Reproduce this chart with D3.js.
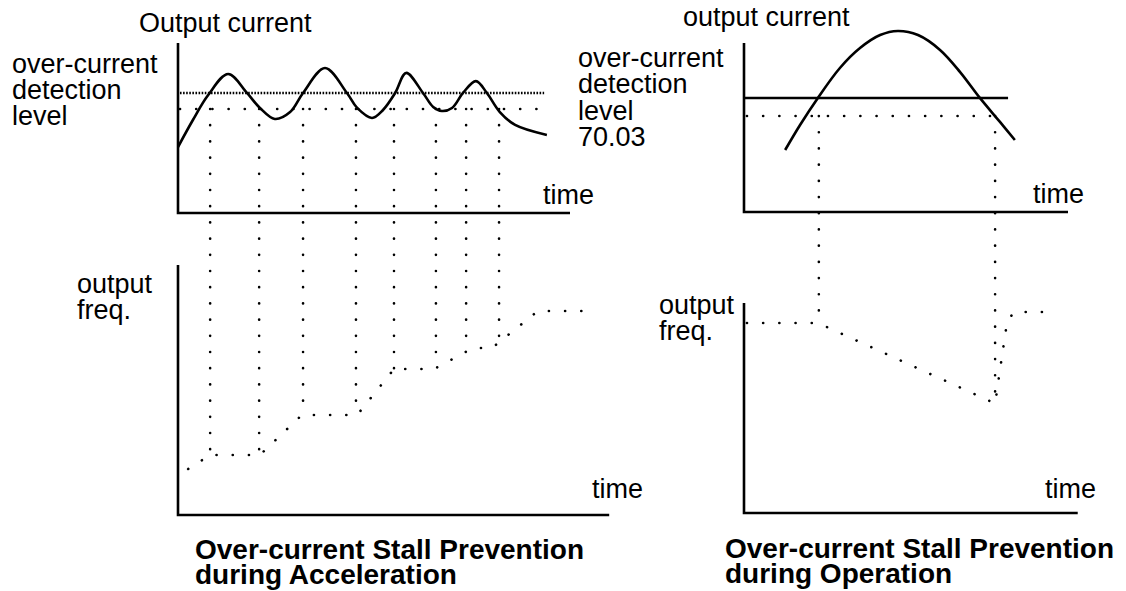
<!DOCTYPE html>
<html><head><meta charset="utf-8">
<script src="https://cdn.jsdelivr.net/npm/d3@7"></script>
<style>
html,body{margin:0;padding:0;background:#fff;}
svg{display:block;}
text{font-family:"Liberation Sans",Arial,Helvetica,sans-serif;fill:#000;}
</style>
</head><body>
<svg id="c" width="1126" height="591"></svg>
<script>
// ---------- data (arbitrary units 0-100) ----------
// Left: stall prevention during acceleration
const accelTime    = [0, 3.8, 7.7, 12.8, 17.6, 20.9, 24.7, 28.6, 31.9, 37.5, 43.1, 45.7, 49.5, 52.3, 55.4, 58.2, 62.5, 65.1, 67.3, 69.9, 72.7, 76, 78.8, 82.1, 86, 94.1];
const accelCurrent = [38.8, 54.7, 69.4, 81.8, 70.6, 61.8, 55.3, 59.4, 70.6, 85.3, 70.6, 61.8, 55.9, 60.6, 70.6, 82.4, 70.6, 62.4, 60, 61.8, 70.6, 77.6, 70.6, 59.4, 51.8, 45.9];
const accelDetectLevel  = 70.6;
const accelReleaseLevel = 61.2;
const accelMarkTimes = [8.2, 20.7, 31.9, 45.4, 55.1, 65.8, 73.5, 81.9];
const accelFreqTime = [2.6, 8.2, 20.9, 31.6, 45.7, 55.1, 65.3, 75.3, 80.1, 91.8, 105.1];
const accelFreq     = [18.4, 24, 24, 40, 40, 58.4, 58.4, 66.8, 66.8, 81.6, 81.6];

// Right: stall prevention during operation
const operTime    = [12.7, 17.3, 22.8, 29.6, 35.8, 42, 47.5, 53.7, 60.5, 66.7, 72.8, 79, 83.6];
const operCurrent = [36.7, 51.5, 67.5, 85.2, 97, 104.7, 107.1, 104.7, 95.9, 82.8, 67.5, 53.3, 42.6];
const operDetectLevel  = 67.5;
const operReleaseLevel = 56.8;
const operMarkTimes = [23.1, 77.5];
const operFreqTime = [0.9, 22.8, 75.9, 77.5, 79, 81.2, 83.3, 94.4];
const operFreq     = [90.5, 90.5, 53.3, 51.9, 68.1, 91, 95.7, 95.7];

// text
const accelCurrentTitle = "Output current";
const operCurrentTitle  = "output current";
const levelLabelLeft  = ["over-current", "detection", "level"];
const levelLabelRight = ["over-current", "detection", "level", "70.03"];
const freqLabel = ["output", "freq."];
const timeLabel = "time";
const accelTitle = ["Over-current Stall Prevention", "during Acceleration"];
const operTitle  = ["Over-current Stall Prevention", "during Operation"];

// ---------- drawing ----------
const svg = d3.select("#c");
const FS = 27;

const xL = d3.scaleLinear().domain([0, 100]).range([178, 570]);
const yLt = d3.scaleLinear().domain([0, 100]).range([213, 43]);
const yLb = d3.scaleLinear().domain([0, 100]).range([515, 265]);
const xR = d3.scaleLinear().domain([0, 100]).range([744, 1068]);
const yRt = d3.scaleLinear().domain([0, 100]).range([212, 43]);
const yRb = d3.scaleLinear().domain([0, 100]).range([513, 303]);

function interp(ts, vs, t) {
  if (t <= ts[0]) return vs[0];
  for (let i = 1; i < ts.length; i++) {
    if (t <= ts[i]) {
      const a = (t - ts[i-1]) / (ts[i] - ts[i-1]);
      return vs[i-1] + a * (vs[i] - vs[i-1]);
    }
  }
  return vs[vs.length - 1];
}

const SPARSE = {w: 2.6, dash: "0.1 16.1", cap: "round"};

function axes(x, y, xEnd) {
  svg.append("path")
    .attr("d", d3.line()([[x(0), y(100)], [x(0), y(0)], [x(xEnd), y(0)]]))
    .attr("fill", "none").attr("stroke", "#000").attr("stroke-width", 2.6);
}
function hline(x, y, v, t0, t1, style) {
  svg.append("line")
    .attr("x1", x(t0)).attr("x2", x(t1)).attr("y1", y(v)).attr("y2", y(v))
    .attr("stroke", "#000").attr("stroke-width", style.w)
    .attr("stroke-dasharray", style.dash).attr("stroke-linecap", style.cap);
}
function curve(x, y, ts, vs, cv) {
  svg.append("path")
    .attr("d", d3.line().x(d => x(d[0])).y(d => y(d[1])).curve(cv)(ts.map((t, i) => [t, vs[i]])))
    .attr("fill", "none").attr("stroke", "#000").attr("stroke-width", 2.6)
    .attr("stroke-linejoin", "round");
}
function dotted(x, y, ts, vs) {
  svg.append("path")
    .attr("d", d3.line().x(d => x(d[0])).y(d => y(d[1]))(ts.map((t, i) => [t, vs[i]])))
    .attr("fill", "none").attr("stroke", "#000").attr("stroke-width", SPARSE.w)
    .attr("stroke-dasharray", SPARSE.dash).attr("stroke-linecap", SPARSE.cap);
}
function markers(x, yTop, yBot, times, level, fts, fvs) {
  times.forEach(t => {
    svg.append("line")
      .attr("x1", x(t)).attr("x2", x(t))
      .attr("y1", yTop(level)).attr("y2", yBot(interp(fts, fvs, t)))
      .attr("stroke", "#000").attr("stroke-width", SPARSE.w)
      .attr("stroke-dasharray", SPARSE.dash).attr("stroke-linecap", SPARSE.cap);
  });
}
function lines(arr, x, y0, dy, opts = {}) {
  const t = svg.append("text").attr("x", x).attr("y", y0)
    .attr("font-size", opts.size || FS).attr("font-weight", opts.weight || "normal");
  arr.forEach((s, i) => t.append("tspan").attr("x", x).attr("y", y0 + i * dy).text(s));
}

// Left panel
axes(xL, yLt, 100);
axes(xL, yLb, 110);
hline(xL, yLt, accelDetectLevel, 0.5, 93.4, {w: 2.3, dash: "1.6 1.5", cap: "butt"});
hline(xL, yLt, accelReleaseLevel, 0.5, 94.1, SPARSE);
markers(xL, yLt, yLb, accelMarkTimes, accelReleaseLevel, accelFreqTime, accelFreq);
curve(xL, yLt, accelTime, accelCurrent, d3.curveCatmullRom.alpha(0.5));
dotted(xL, yLb, accelFreqTime, accelFreq);

// Right panel
axes(xR, yRt, 100);
axes(xR, yRb, 103);
svg.append("line")
  .attr("x1", xR(0)).attr("x2", xR(81.5)).attr("y1", yRt(operDetectLevel)).attr("y2", yRt(operDetectLevel))
  .attr("stroke", "#000").attr("stroke-width", 2.4);
hline(xR, yRt, operReleaseLevel, 0.9, 80, SPARSE);
markers(xR, yRt, yRb, operMarkTimes, operReleaseLevel, operFreqTime, operFreq);
curve(xR, yRt, operTime, operCurrent, d3.curveCatmullRom.alpha(0.5));
dotted(xR, yRb, operFreqTime, operFreq);

// Texts
lines([accelCurrentTitle], 139, 32, 0);
lines(levelLabelLeft, 12, 73, 26);
lines([timeLabel], 543, 204, 0);
lines(freqLabel, 77, 293, 26);
lines([timeLabel], 592, 498, 0);

lines([operCurrentTitle], 683, 26, 0);
lines(levelLabelRight, 578, 67, 26.3);
lines([timeLabel], 1033, 203, 0);
lines(freqLabel, 659, 314, 26);
lines([timeLabel], 1045, 498, 0);

lines(accelTitle, 195, 559, 25, {size: 28, weight: "bold"});
lines(operTitle, 725, 558, 25, {size: 28, weight: "bold"});
</script>
</body></html>
